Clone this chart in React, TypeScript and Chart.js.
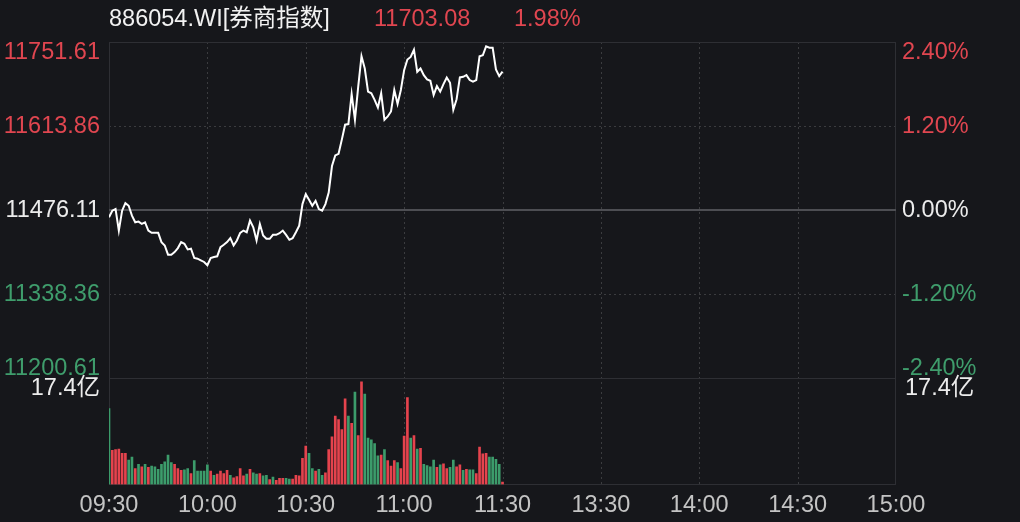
import React, { useEffect, useRef } from "react";
import { Chart, registerables } from "chart.js";

Chart.register(...registerables);

const TITLE = "886054.WI[券商指数]";
const LAST_PRICE = "11703.08";
const LAST_PCT = "1.98%";
const PREV_CLOSE = 11476.11;
const PRICE_TICKS = [11751.61, 11613.86, 11476.11, 11338.36, 11200.61];
const PCT_TICKS = ["2.40%", "1.20%", "0.00%", "-1.20%", "-2.40%"];
const VOL_MAX = 17.4;
const VOL_LABEL = "17.4亿";
const TIME_LABELS = ["09:30", "10:00", "10:30", "11:00", "11:30", "13:30", "14:00", "14:30", "15:00"];
const TOTAL_MINUTES = 240;

const prices = [
  11464.18, 11475.03, 11477.74, 11442.5, 11475.03, 11487.5, 11483.16, 11466.89, 11456.05, 11457.13,
  11453.34, 11456.05, 11442.5, 11438.7, 11438.7, 11438.7, 11423.52, 11418.1, 11402.92, 11402.92,
  11407.25, 11413.76, 11423.52, 11420.81, 11411.59, 11412.68, 11397.5, 11396.41, 11393.7, 11390.99,
  11385.57, 11397.5, 11399.12, 11400.21, 11415.39, 11419.18, 11423.52, 11430.03, 11418.1, 11426.23,
  11438.7, 11442.5, 11439.78, 11458.76, 11447.92, 11426.23, 11453.34, 11434.36, 11428.94, 11428.94,
  11435.45, 11435.45, 11438.16, 11442.5, 11435.45, 11427.31, 11430.03, 11439.78, 11450.63, 11485.87,
  11502.13, 11492.92, 11483.16, 11491.29, 11477.74, 11475.03, 11485.87, 11504.85, 11548.22, 11565.57,
  11568.28, 11591.59, 11615.99, 11617.07, 11666.41, 11624.12, 11678.34, 11728.22, 11708.16, 11670.21,
  11667.5, 11656.65, 11644.18, 11667.5, 11624.12, 11629.54, 11637.68, 11672.92, 11650.15, 11672.92,
  11705.45, 11722.8, 11727.13, 11739.06, 11702.74, 11708.16, 11697.32, 11690.27, 11688.1, 11664.79,
  11679.42, 11670.21, 11682.68, 11693.52, 11684.85, 11640.39, 11657.74, 11693.52, 11694.6, 11697.32,
  11689.18, 11686.47, 11689.18, 11728.22, 11729.85, 11744.48, 11742.32, 11742.32, 11706.53, 11695.69,
  11703.08,
];

const volumes = [
  12.4, 5.6, 5.7, 5.8, 5.1, 5.1, 4.0, 4.5, 2.6, 3.3,
  2.9, 3.3, 2.8, 3.0, 2.9, 2.5, 3.3, 3.7, 4.8, 3.6,
  3.3, 2.6, 2.3, 2.4, 2.6, 1.8, 3.9, 2.2, 2.2, 2.2,
  3.2, 2.2, 1.5, 1.7, 2.2, 1.8, 2.3, 1.5, 1.1, 1.3,
  2.6, 1.4, 1.7, 2.5, 1.9, 1.7, 1.8, 1.4, 1.5, 0.8,
  1.2, 0.7, 1.0, 1.0, 1.0, 0.9, 0.9, 1.5, 1.4, 4.3,
  6.3, 5.1, 2.6, 2.2, 2.5, 1.5, 1.9, 5.7, 7.8, 11.2,
  10.6, 9.0, 14.0, 11.2, 10.0, 15.1, 8.0, 16.8, 14.8, 7.6,
  7.3, 6.7, 4.7, 4.8, 5.7, 3.9, 3.0, 3.9, 3.6, 2.6,
  7.9, 14.2, 7.6, 8.0, 5.8, 5.9, 3.3, 3.1, 2.9, 4.0,
  2.8, 3.2, 3.4, 2.6, 2.8, 4.0, 2.9, 3.2, 2.3, 2.5,
  2.4, 2.4, 1.8, 6.1, 5.0, 5.1, 4.5, 4.5, 4.1, 3.3,
  0.4,
];

// 1 = red (up), 0 = green (down)
const volumeUp = [
  0, 1, 1, 1, 1, 1, 0, 0, 1, 0,
  1, 0, 1, 0, 0, 0, 0, 0, 0, 0,
  1, 1, 1, 0, 0, 1, 0, 0, 0, 0,
  0, 1, 0, 1, 1, 1, 1, 0, 1, 1,
  1, 1, 0, 1, 0, 0, 1, 0, 0, 1,
  0, 1, 1, 1, 0, 0, 1, 1, 1, 1,
  1, 0, 0, 1, 0, 0, 1, 1, 1, 1,
  1, 1, 1, 0, 1, 0, 1, 1, 0, 0,
  0, 0, 0, 1, 0, 1, 1, 1, 0, 1,
  1, 1, 0, 1, 0, 1, 0, 0, 0, 0,
  1, 0, 1, 1, 0, 0, 1, 1, 0, 1,
  0, 0, 1, 1, 1, 1, 0, 0, 0, 0,
  1,
];

const BG = "#16171b";
const RED = "#e5434d";
const GREEN = "#3c9c6b";
const RED_TEXT = "#e04650";
const GREEN_TEXT = "#3f9d6c";
const WHITE_TEXT = "#ececec";
const FONT = "'Liberation Sans', 'Noto Sans CJK SC', Arial, sans-serif";
const LABEL_SIZE = 23.5;

const overlayPlugin = {
  id: "overlay",
  beforeDatasetsDraw(chart: any) {
    const { ctx, chartArea } = chart;
    const xs = chart.scales.x;
    const yP = chart.scales.yPrice;
    const yV = chart.scales.yVol;
    const left = chartArea.left;
    const right = chartArea.right;
    const seg = (x1: number, y1: number, x2: number, y2: number) => {
      ctx.beginPath();
      ctx.moveTo(x1, y1);
      ctx.lineTo(x2, y2);
      ctx.stroke();
    };
    ctx.save();
    ctx.lineWidth = 1;
    ctx.strokeStyle = "rgba(255,255,255,0.16)";
    ctx.setLineDash([2, 3]);
    for (let i = 1; i < TIME_LABELS.length - 1; i++) {
      const px = Math.round(xs.getPixelForValue(i * 30)) + 0.5;
      seg(px, yP.top, px, yV.bottom);
    }
    [PRICE_TICKS[1], PRICE_TICKS[3]].forEach((v) => {
      const py = Math.round(yP.getPixelForValue(v)) + 0.5;
      seg(left, py, right, py);
    });
    ctx.setLineDash([]);
    ctx.strokeStyle = "#2e2f34";
    const t = Math.round(yP.top) + 0.5;
    const vt = Math.round(yV.top) + 0.5;
    const vb = Math.round(yV.bottom) - 0.5;
    seg(left, t, right, t);
    seg(left, vt, right, vt);
    seg(left, vb, right, vb);
    seg(Math.round(left) + 0.5, t, Math.round(left) + 0.5, vb);
    seg(Math.round(right) - 0.5, t, Math.round(right) - 0.5, vb);
    ctx.strokeStyle = "#4d4e53";
    ctx.lineWidth = 2;
    const zy = Math.round(yP.getPixelForValue(PREV_CLOSE));
    seg(left, zy, right, zy);
    ctx.restore();
  },
  afterDraw(chart: any) {
    const { ctx, chartArea } = chart;
    const yP = chart.scales.yPrice;
    const yV = chart.scales.yVol;
    ctx.save();
    ctx.font = `${LABEL_SIZE}px ${FONT}`;
    ctx.textBaseline = "middle";
    PRICE_TICKS.forEach((v, i) => {
      let py = yP.getPixelForValue(v);
      if (i === 0) py += 11;
      if (i === PRICE_TICKS.length - 1) py -= 10;
      const color = v > PREV_CLOSE ? RED_TEXT : v < PREV_CLOSE ? GREEN_TEXT : WHITE_TEXT;
      ctx.fillStyle = color;
      ctx.textAlign = "right";
      ctx.fillText(v.toFixed(2), chartArea.left - 9, py);
      ctx.textAlign = "left";
      ctx.fillText(PCT_TICKS[i], chartArea.right + 6, py);
    });
    ctx.fillStyle = WHITE_TEXT;
    const vy = yV.getPixelForValue(VOL_MAX) + 10;
    ctx.textAlign = "right";
    ctx.fillText(VOL_LABEL, chartArea.left - 9, vy);
    ctx.textAlign = "left";
    ctx.fillText(VOL_LABEL, chartArea.right + 9, vy);
    // header
    ctx.textAlign = "left";
    ctx.fillStyle = "#f2f2f2";
    ctx.fillText(TITLE, chartArea.left, 20);
    ctx.fillStyle = RED_TEXT;
    ctx.fillText(LAST_PRICE, 374, 20);
    ctx.fillText(LAST_PCT, 514, 20);
    ctx.restore();
  },
};

export default function App() {
  const canvasRef = useRef<HTMLCanvasElement | null>(null);

  useEffect(() => {
    document.body.style.margin = "0";
    document.body.style.background = BG;
    const canvas = canvasRef.current;
    if (!canvas) return;
    const lineData = prices.map((p, i) => ({ x: i, y: p }));
    const barData = volumes.map((v, i) => ({ x: i, y: v }));
    const barColors = volumeUp.map((u) => (u ? RED : GREEN));

    const chart = new Chart(canvas, {
      type: "bar",
      data: {
        datasets: [
          {
            type: "line",
            data: lineData,
            yAxisID: "yPrice",
            borderColor: "#ffffff",
            borderWidth: 2,
            pointRadius: 0,
            tension: 0,
            fill: false,
          } as any,
          {
            type: "bar",
            data: barData,
            yAxisID: "yVol",
            backgroundColor: barColors,
            borderWidth: 0,
            barThickness: 2,
          } as any,
        ],
      },
      options: {
        animation: false,
        responsive: false,
        devicePixelRatio: 1,
        layout: { padding: { left: 109, right: 124, top: 42, bottom: -4 } },
        plugins: { legend: { display: false }, tooltip: { enabled: false } },
        scales: {
          x: {
            type: "linear",
            min: 0,
            max: TOTAL_MINUTES,
            offset: false,
            grid: { display: false, drawTicks: false, offset: false },
            border: { display: false },
            afterBuildTicks: (scale: any) => {
              scale.ticks = TIME_LABELS.map((_, i) => ({ value: i * 30 }));
            },
            ticks: {
              autoSkip: false,
              maxRotation: 0,
              padding: 9,
              color: "#c4c4c4",
              font: { size: LABEL_SIZE, family: FONT, lineHeight: 1.0 },
              callback: (_v: any, i: number) => TIME_LABELS[i],
            },
          },
          yPrice: {
            type: "linear",
            position: "left",
            stack: "panels",
            stackWeight: 338,
            weight: 10,
            min: PRICE_TICKS[PRICE_TICKS.length - 1],
            max: PRICE_TICKS[0],
            grid: { display: false, drawTicks: false },
            border: { display: false },
            ticks: { display: false },
          },
          yVol: {
            type: "linear",
            position: "left",
            stack: "panels",
            stackWeight: 107,
            weight: 0,
            min: 0,
            max: VOL_MAX,
            grid: { display: false, drawTicks: false },
            border: { display: false },
            ticks: { display: false },
          },
        } as any,
      },
      plugins: [overlayPlugin],
    });
    return () => chart.destroy();
  }, []);

  return (
    <div style={{ position: "absolute", left: 0, top: 0, width: 1020, height: 522, background: BG }}>
      <canvas ref={canvasRef} width={1020} height={522} style={{ display: "block" }} />
    </div>
  );
}
